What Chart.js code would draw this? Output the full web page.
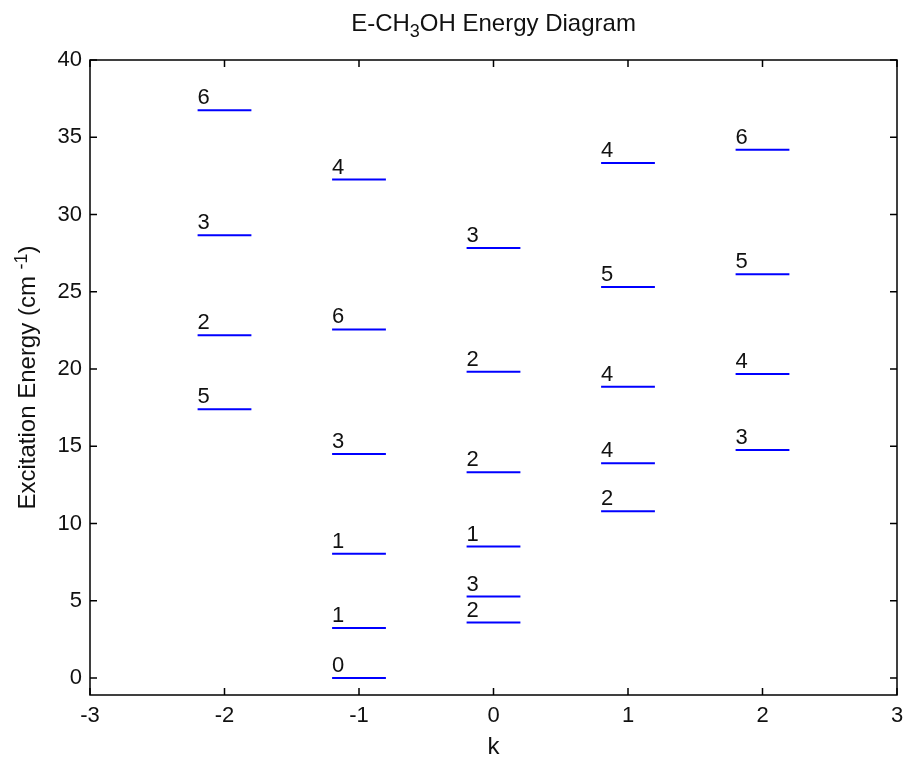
<!DOCTYPE html>
<html>
<head>
<meta charset="utf-8">
<script src="https://cdn.jsdelivr.net/npm/chart.js@4.4.1/dist/chart.umd.min.js"></script>
<style>
  html, body { margin: 0; padding: 0; background: #ffffff; }
  #wrap { width: 903px; height: 757px; position: relative; }
</style>
</head>
<body>
<div id="wrap"><canvas id="c" width="903" height="757"></canvas></div>
<script>
// ---- data ----
const kValues  = [-2, -2, -2, -2,  -1, -1, -1, -1, -1, -1,   0, 0, 0, 0, 0, 0,   1, 1, 1, 1, 1,   2, 2, 2, 2];
const energies = [36.74, 28.66, 22.19, 17.39,
                  32.26, 22.56, 14.50, 8.04, 3.23, 0.00,
                  27.83, 19.82, 13.32, 8.51, 5.27, 3.59,
                  33.33, 25.31, 18.85, 13.90, 10.80,
                  34.19, 26.13, 19.67, 14.76];
const jLabels  = ['6', '3', '2', '5',
                  '4', '6', '3', '1', '1', '0',
                  '3', '2', '2', '1', '3', '2',
                  '4', '5', '4', '4', '2',
                  '6', '5', '4', '3'];
const xTicks = [-3, -2, -1, 0, 1, 2, 3];
const yTicks = [0, 5, 10, 15, 20, 25, 30, 35, 40];
const halfWidth = 0.2;

const FONT = "'Liberation Sans', Arial, Helvetica, sans-serif";
const TEXT = '#111111';

const datasets = kValues.map((k, i) => ({
  label: 'J=' + jLabels[i],
  data: [{x: k - halfWidth, y: energies[i]}, {x: k + halfWidth, y: energies[i]}],
  showLine: true,
  borderColor: '#0000ff',
  borderWidth: 2,
  pointRadius: 0,
  fill: false
}));

const framePlugin = {
  id: 'frame',
  afterDatasetsDraw(chart) {
    const ctx = chart.ctx;
    const a = chart.chartArea;
    const xs = chart.scales.x, ys = chart.scales.y;
    ctx.save();
    // level labels
    ctx.fillStyle = TEXT;
    ctx.font = '22px ' + FONT;
    ctx.textAlign = 'left';
    ctx.textBaseline = 'alphabetic';
    kValues.forEach((k, i) => {
      const px = xs.getPixelForValue(k - halfWidth);
      const py = ys.getPixelForValue(energies[i]);
      ctx.fillText(jLabels[i], px, py - 6);
    });
    // frame
    ctx.strokeStyle = '#000000';
    ctx.lineWidth = 1.5;
    ctx.strokeRect(a.left, a.top, a.right - a.left, a.bottom - a.top);
    // inward ticks
    const tl = 7;
    ctx.beginPath();
    xs.ticks.forEach(t => {
      const px = xs.getPixelForValue(t.value);
      ctx.moveTo(px, a.bottom); ctx.lineTo(px, a.bottom - tl);
      ctx.moveTo(px, a.top); ctx.lineTo(px, a.top + tl);
    });
    ys.ticks.forEach(t => {
      const py = ys.getPixelForValue(t.value);
      ctx.moveTo(a.left, py); ctx.lineTo(a.left + tl, py);
      ctx.moveTo(a.right, py); ctx.lineTo(a.right - tl, py);
    });
    ctx.stroke();

    // title with subscript
    const cx = (a.left + a.right) / 2;
    const bigF = '24px ' + FONT, smallF = '18px ' + FONT;
    const parts = [['E-CH', bigF, 0], ['3', smallF, 6], ['OH Energy Diagram', bigF, 0]];
    let total = 0;
    parts.forEach(p => { ctx.font = p[1]; total += ctx.measureText(p[0]).width; });
    let x = cx - total / 2;
    ctx.textAlign = 'left';
    parts.forEach(p => {
      ctx.font = p[1];
      ctx.fillText(p[0], x, 31 + p[2]);
      x += ctx.measureText(p[0]).width;
    });

    // x axis title
    ctx.font = '24px ' + FONT;
    ctx.textAlign = 'center';
    ctx.fillText('k', cx, 754);

    // y axis title with superscript
    ctx.translate(35, (a.top + a.bottom) / 2);
    ctx.rotate(-Math.PI / 2);
    const yparts = [['Excitation Energy (cm ', bigF, 0], ['-1', smallF, -8], [')', bigF, 0]];
    total = 0;
    yparts.forEach(p => { ctx.font = p[1]; total += ctx.measureText(p[0]).width; });
    x = -total / 2;
    ctx.textAlign = 'left';
    yparts.forEach(p => {
      ctx.font = p[1];
      ctx.fillText(p[0], x, p[2]);
      x += ctx.measureText(p[0]).width;
    });
    ctx.restore();
  }
};

new Chart(document.getElementById('c'), {
  type: 'scatter',
  data: { datasets },
  options: {
    responsive: false,
    animation: false,
    layout: { padding: { top: 60, right: 6, left: 0, bottom: 0 } },
    plugins: { legend: { display: false }, tooltip: { enabled: false }, title: { display: false } },
    scales: {
      x: {
        type: 'linear', min: -3, max: 3,
        afterBuildTicks(s) { s.ticks = xTicks.map(v => ({ value: v })); },
        afterFit(s) { s.height = 62; s.paddingLeft = 0; s.paddingRight = 0; },
        ticks: { color: TEXT, font: { size: 22, family: FONT }, padding: 8, maxRotation: 0, autoSkip: false },
        grid: { display: false, drawTicks: false },
        border: { display: false }
      },
      y: {
        type: 'linear', min: -1.1, max: 40,
        afterBuildTicks(s) { s.ticks = yTicks.map(v => ({ value: v })); },
        afterFit(s) { s.width = 90; s.paddingTop = 0; s.paddingBottom = 0; },
        ticks: { color: TEXT, font: { size: 22, family: FONT }, padding: 8, autoSkip: false },
        grid: { display: false, drawTicks: false },
        border: { display: false }
      }
    }
  },
  plugins: [framePlugin]
});
</script>
</body>
</html>
